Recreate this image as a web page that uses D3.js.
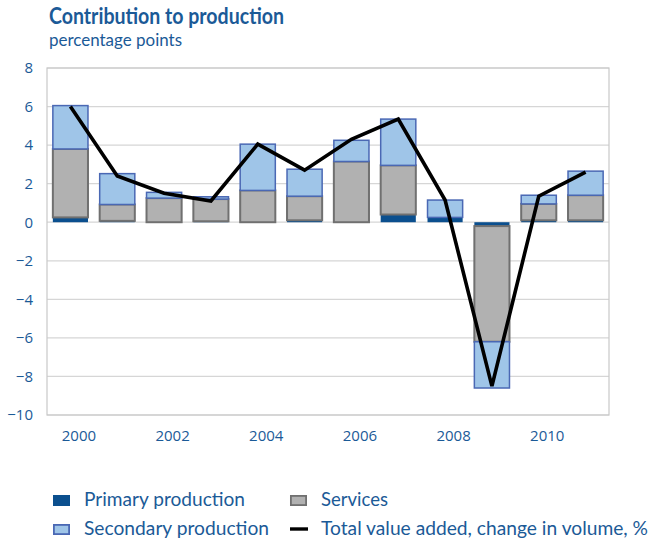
<!DOCTYPE html>
<html>
<head>
<meta charset="utf-8">
<script src="https://cdn.jsdelivr.net/npm/d3@7"></script>
<style>
  html, body { margin: 0; padding: 0; background: #ffffff; }
  svg { display: block; }
</style>
</head>
<body>
<svg id="chart" width="651" height="542"></svg>
<script>
// Contribution to production by sector, percentage points
const years = [2000, 2001, 2002, 2003, 2004, 2005, 2006, 2007, 2008, 2009, 2010, 2011];
const primary = [0.25, 0.07, 0, 0.05, 0, 0.1, 0, 0.4, 0.25, -0.2, 0.1, 0.1];
const services = [3.55, 0.85, 1.25, 1.15, 1.65, 1.25, 3.15, 2.55, 0, -6.0, 0.85, 1.3];
const secondary = [2.25, 1.6, 0.3, 0.12, 2.4, 1.4, 1.1, 2.4, 0.9, -2.4, 0.45, 1.25];
const total = [6.0, 2.4, 1.5, 1.1, 4.05, 2.7, 4.3, 5.35, 1.15, -8.5, 1.35, 2.6];
const yTicks = [8, 6, 4, 2, 0, -2, -4, -6, -8, -10];
const xTickLabels = [2000, 2002, 2004, 2006, 2008, 2010];

const titleText = "Contribution to production";
const subtitleText = "percentage points";
const legendLabels = {
  primary: "Primary production",
  secondary: "Secondary production",
  services: "Services",
  total: "Total value added, change in volume, %"
};

const textBlue = "#1b5a97";
const colors = {
  primary: { fill: "#0b4f8e", stroke: "#0b4f8e" },
  services: { fill: "#b1b1b1", stroke: "#707070" },
  secondary: { fill: "#9fc5e8", stroke: "#4a68b4" }
};
const humanist = "Lato, 'Open Sans', sans-serif";
const bodyFont = "'Open Sans', 'Noto Sans', sans-serif";

const svg = d3.select("#chart");
const plot = { left: 47, right: 609, top: 68, bottom: 415 };

const x = d3.scaleBand()
  .domain(years)
  .range([plot.left, plot.right])
  .paddingInner(0.25)
  .paddingOuter(0.125);

const y = d3.scaleLinear()
  .domain([-10, 8])
  .range([plot.bottom, plot.top]);

// Title
svg.append("text")
  .attr("x", 49).attr("y", 24)
  .attr("fill", textBlue)
  .attr("font-family", humanist)
  .attr("font-weight", "bold")
  .attr("font-size", 22)
  .attr("textLength", 235)
  .attr("lengthAdjust", "spacingAndGlyphs")
  .text(titleText);

svg.append("text")
  .attr("x", 49).attr("y", 46)
  .attr("fill", textBlue)
  .attr("font-family", humanist)
  .attr("font-size", 17)
  .attr("textLength", 133)
  .attr("lengthAdjust", "spacingAndGlyphs")
  .text(subtitleText);

// Gridlines
svg.append("g")
  .selectAll("line")
  .data(yTicks)
  .join("line")
  .attr("x1", plot.left).attr("x2", plot.right)
  .attr("y1", d => y(d)).attr("y2", d => y(d))
  .attr("stroke", "#d6d6d6")
  .attr("stroke-width", 1.2);

// Plot frame
svg.append("rect")
  .attr("x", plot.left).attr("y", plot.top)
  .attr("width", plot.right - plot.left)
  .attr("height", plot.bottom - plot.top)
  .attr("fill", "none")
  .attr("stroke", "#c8c8c8")
  .attr("stroke-width", 1.2);

// Y axis labels
const yAxis = d3.axisLeft(y).tickValues(yTicks).tickSize(0).tickPadding(14);
const yg = svg.append("g")
  .attr("transform", `translate(${plot.left},0)`)
  .call(yAxis);
yg.select(".domain").remove();
yg.selectAll("text")
  .attr("fill", textBlue)
  .attr("font-family", bodyFont)
  .attr("font-size", 15);

// X axis labels (every second year)
const xAxis = d3.axisBottom(x).tickValues(xTickLabels).tickSize(0).tickPadding(15);
const xg = svg.append("g")
  .attr("transform", `translate(8.5,${plot.bottom})`)
  .call(xAxis);
xg.select(".domain").remove();
xg.selectAll("text")
  .attr("fill", textBlue)
  .attr("font-family", bodyFont)
  .attr("font-size", 15);

// Stacked bars
const rows = years.map((yr, i) => ({
  year: yr,
  primary: primary[i],
  services: services[i],
  secondary: secondary[i]
}));
const keys = ["primary", "services", "secondary"];
const stacked = d3.stack()
  .keys(keys)
  .offset(d3.stackOffsetDiverging)(rows);

const barGroups = svg.append("g")
  .selectAll("g")
  .data(stacked)
  .join("g")
  .attr("fill", s => colors[s.key].fill)
  .attr("stroke", s => colors[s.key].stroke)
  .attr("stroke-width", s => s.key === "primary" ? 0 : (s.key === "services" ? 2 : 1.5));

barGroups.selectAll("rect")
  .data(s => s.filter(d => d[1] !== d[0]))
  .join("rect")
  .attr("x", d => x(d.data.year))
  .attr("width", x.bandwidth())
  .attr("y", d => y(Math.max(d[0], d[1])))
  .attr("height", d => Math.abs(y(d[0]) - y(d[1])));

// Total value added line
const line = d3.line()
  .x((d, i) => x(years[i]) + x.bandwidth() / 2)
  .y(d => y(d));

svg.append("path")
  .datum(total)
  .attr("fill", "none")
  .attr("stroke", "#000000")
  .attr("stroke-width", 3.6)
  .attr("stroke-linejoin", "miter")
  .attr("d", line);

// Legend
const legend = svg.append("g");
const legendItems = [
  { key: "primary", x: 53, y: 500, type: "box" },
  { key: "services", x: 290, y: 500, type: "box" },
  { key: "secondary", x: 53, y: 529, type: "box" },
  { key: "total", x: 290, y: 529, type: "line" }
];
const legendWidths = { primary: 161, services: 67, secondary: 185, total: 327 };

legendItems.forEach(item => {
  if (item.type === "box") {
    const c = colors[item.key];
    const sw = item.key === "primary" ? 0 : 1.8;
    legend.append("rect")
      .attr("x", item.x + sw / 2)
      .attr("y", item.y - 5 + sw / 2)
      .attr("width", 17 - sw)
      .attr("height", 11 - sw)
      .attr("fill", c.fill)
      .attr("stroke", c.stroke)
      .attr("stroke-width", sw);
  } else {
    legend.append("line")
      .attr("x1", item.x).attr("x2", item.x + 18)
      .attr("y1", item.y).attr("y2", item.y)
      .attr("stroke", "#000")
      .attr("stroke-width", 3.4);
  }
  legend.append("text")
    .attr("x", item.x + 31)
    .attr("y", item.y)
    .attr("dy", "0.35em")
    .attr("fill", textBlue)
    .attr("font-family", humanist)
    .attr("font-size", 18.5)
    .attr("textLength", legendWidths[item.key])
    .attr("lengthAdjust", "spacingAndGlyphs")
    .text(legendLabels[item.key]);
});
</script>
</body>
</html>
